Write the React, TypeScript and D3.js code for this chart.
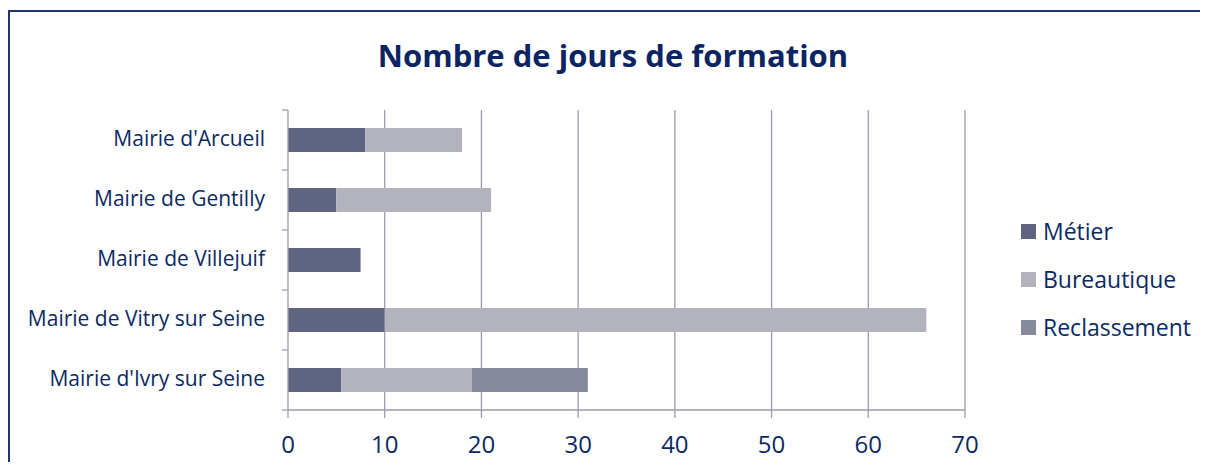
import React from "react"
import * as d3 from "d3"

const mairies = [
  "Mairie d'Arcueil",
  "Mairie de Gentilly",
  "Mairie de Villejuif",
  "Mairie de Vitry sur Seine",
  "Mairie d'Ivry sur Seine",
]
const metier = [8, 5, 7.5, 10, 5.5]
const bureautique = [10, 16, 0, 56, 13.5]
const reclassement = [0, 0, 0, 0, 12]
const seriesNames = ["Métier", "Bureautique", "Reclassement"]
const xTicks = [0, 10, 20, 30, 40, 50, 60, 70]

const colors = ["#5f6480", "#b3b3bd", "#878a9c"]
const textColor = "#0c2a62"
const gridColor = "#9c9cae"

const W = 1208
const H = 470
const font = "'Open Sans', sans-serif"

export default function App() {
  const rows = mairies.map((name, i) => ({
    name,
    "Métier": metier[i],
    "Bureautique": bureautique[i],
    "Reclassement": reclassement[i],
  }))
  const stacked = d3.stack<any>().keys(seriesNames)(rows)

  const x = d3.scaleLinear().domain([0, 70]).range([288, 965])
  const y = d3.scaleBand().domain(mairies).range([110, 410]).paddingInner(0.6).paddingOuter(0.3)
  const bounds = d3.range(mairies.length + 1).map(i => 110 + (i * 300) / mairies.length)

  return (
    <svg width={W} height={H} style={{ display: "block", margin: -8 }}>
      <rect x={0} y={0} width={W} height={H} fill="white" />
      <rect x={9} y={11} width={W} height={H} fill="white" stroke="#1b3470" strokeWidth={2} />

      <text x={613} y={67} textAnchor="middle" fontFamily={font} fontWeight={700} fontSize={31} fill="#0b2462">
        Nombre de jours de formation
      </text>

      {/* vertical grid lines */}
      {xTicks.slice(1).map(t => (
        <line key={t} x1={x(t)} x2={x(t)} y1={110} y2={410} stroke={gridColor} strokeWidth={1.3} />
      ))}

      {/* bars */}
      {stacked.map((s, si) =>
        s.map((d, i) =>
          d[1] - d[0] > 0 ? (
            <rect
              key={si + "-" + i}
              x={x(d[0])}
              width={x(d[1]) - x(d[0])}
              y={y(mairies[i])}
              height={y.bandwidth()}
              fill={colors[si]}
            />
          ) : null
        )
      )}

      {/* category axis */}
      <line x1={288} x2={288} y1={110} y2={410} stroke={gridColor} strokeWidth={1.3} />
      {bounds.map((b, i) => (
        <line key={i} x1={282} x2={288} y1={b} y2={b} stroke={gridColor} strokeWidth={1.3} />
      ))}
      {mairies.map(m => (
        <text key={m} x={265} y={y(m)! + y.bandwidth() / 2 + 6} textAnchor="end"
          fontFamily={font} fontSize={21} fill={textColor}>
          {m}
        </text>
      ))}

      {/* value axis */}
      <line x1={288} x2={965} y1={410} y2={410} stroke={gridColor} strokeWidth={1.3} />
      {xTicks.map(t => (
        <g key={t}>
          <line x1={x(t)} x2={x(t)} y1={410} y2={418} stroke={gridColor} strokeWidth={1.3} />
          <text x={x(t)} y={453} textAnchor="middle" fontFamily={font} fontSize={24} fill={textColor}>
            {t}
          </text>
        </g>
      ))}

      {/* legend */}
      {seriesNames.map((n, i) => (
        <g key={n} transform={`translate(1021, ${224 + i * 48})`}>
          <rect width={15} height={15} fill={colors[i]} />
          <text x={22} y={15.5} fontFamily={font} fontSize={23} fill={textColor}>
            {n}
          </text>
        </g>
      ))}
    </svg>
  )
}
